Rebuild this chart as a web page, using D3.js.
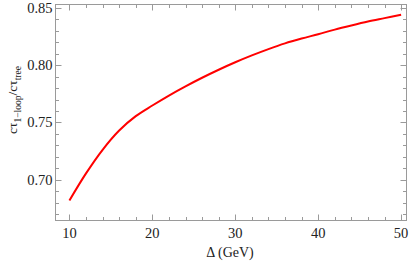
<!DOCTYPE html>
<html>
<head>
<meta charset="utf-8">
<script src="https://cdn.jsdelivr.net/npm/d3@7"></script>
<style>
  body { margin: 0; background: #fff; }
  text { font-family: "Liberation Serif", "Times New Roman", serif; fill: #222; }
</style>
</head>
<body>
<svg id="chart" width="409" height="270"></svg>
<script>
// values
var delta = [10, 12, 14, 16, 18, 20, 22, 24, 26, 28, 30, 32, 34, 36, 38, 40, 42, 44, 46, 48, 50];
var ratio = [0.682, 0.7056, 0.7262, 0.743, 0.7555, 0.7648, 0.7735, 0.7815, 0.789, 0.796, 0.8025,
             0.8085, 0.814, 0.819, 0.8232, 0.827, 0.831, 0.8346, 0.838, 0.841, 0.844];
var xTicks = [10, 20, 30, 40, 50];
var yTicks = [0.70, 0.75, 0.80, 0.85];

var svg = d3.select('#chart');
var pLeft = 55.5, pRight = 406.5, pTop = 4.5, pBottom = 220.5;
var frameColor = '#9a9a9a';

var x = d3.scaleLinear().domain([8.32, 50.65]).range([pLeft, pRight]);
var y = d3.scaleLinear().domain([0.6645, 0.8529]).range([pBottom, pTop]);

var xMinor = d3.range(10, 51, 2).filter(function(d){ return d % 10 != 0; });
var yMinor = d3.range(67, 86, 1).map(function(d){ return d / 100; })
               .filter(function(d){ return Math.round(d * 100) % 5 != 0; });

var g = svg.append('g');

function tickLines(vals, len, horiz){
  vals.forEach(function(v){
    if (horiz) {
      var px = Math.round(x(v)) + 0.5;
      g.append('line').attr('x1', px).attr('x2', px).attr('y1', pBottom).attr('y2', pBottom - len)
        .attr('stroke', frameColor).attr('stroke-width', 1);
      g.append('line').attr('x1', px).attr('x2', px).attr('y1', pTop).attr('y2', pTop + len)
        .attr('stroke', frameColor).attr('stroke-width', 1);
    } else {
      var py = Math.round(y(v)) + 0.5;
      g.append('line').attr('x1', pLeft).attr('x2', pLeft + len).attr('y1', py).attr('y2', py)
        .attr('stroke', frameColor).attr('stroke-width', 1);
      g.append('line').attr('x1', pRight).attr('x2', pRight - len).attr('y1', py).attr('y2', py)
        .attr('stroke', frameColor).attr('stroke-width', 1);
    }
  });
}

tickLines(xTicks, 6, true);
tickLines(xMinor, 3.5, true);
tickLines(yTicks, 6, false);
tickLines(yMinor, 3.5, false);

g.append('rect')
  .attr('x', pLeft).attr('y', pTop)
  .attr('width', pRight - pLeft).attr('height', pBottom - pTop)
  .attr('fill', 'none').attr('stroke', frameColor).attr('stroke-width', 1);

g.selectAll('text.xt').data(xTicks).enter().append('text')
  .attr('class', 'xt')
  .attr('x', function(d){ return x(d); })
  .attr('y', 238)
  .attr('text-anchor', 'middle')
  .style('font-size', '14.5px')
  .text(function(d){ return d; });

g.selectAll('text.yt').data(yTicks).enter().append('text')
  .attr('class', 'yt')
  .attr('x', 52.5)
  .attr('y', function(d){ return y(d) + 5; })
  .attr('text-anchor', 'end')
  .style('font-size', '14.5px')
  .text(function(d){ return d.toFixed(2); });

g.append('text')
  .attr('x', 230).attr('y', 257)
  .attr('text-anchor', 'middle')
  .style('font-size', '14px')
  .text('\u0394 (GeV)');

var yl = g.append('text')
  .attr('transform', 'translate(17,100) rotate(-90)')
  .attr('text-anchor', 'middle')
  .style('font-size', '13.5px');
yl.append('tspan').text('c\u03c4');
yl.append('tspan').attr('dy', 3.5).style('font-size', '9.5px').text('1\u2212loop');
yl.append('tspan').attr('dy', -3.5).text('/c\u03c4');
yl.append('tspan').attr('dy', 3.5).style('font-size', '9.5px').text('tree');

var pts = delta.map(function(d, i){ return [d, ratio[i]]; });
var line = d3.line()
  .x(function(d){ return x(d[0]); })
  .y(function(d){ return y(d[1]); })
  .curve(d3.curveCatmullRom);

g.append('path')
  .datum(pts)
  .attr('d', line)
  .attr('fill', 'none')
  .attr('stroke', '#ff0000')
  .attr('stroke-width', 2);
</script>
</body>
</html>
